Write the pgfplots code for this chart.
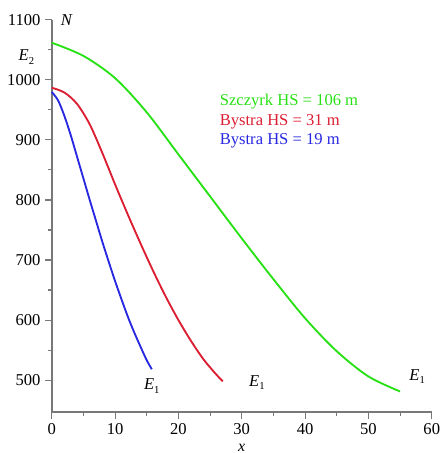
\documentclass[border=0pt]{standalone}
\usepackage{fontspec}
\setmainfont{Liberation Serif}
\usepackage{pgfplots}
\pgfplotsset{compat=1.18}

\definecolor{cgreen}{RGB}{40,225,20}
\definecolor{cred}{RGB}{220,30,50}
\definecolor{cblue}{RGB}{40,40,225}
\definecolor{axgray}{RGB}{120,120,120}

\newcommand{\Eone}{\textit{E}\raisebox{-0.45ex}{\footnotesize 1}}
\newcommand{\Etwo}{\textit{E}\raisebox{-0.45ex}{\footnotesize 2}}

\begin{document}
\begin{tikzpicture}
\begin{axis}[
    scale only axis,
    width=286.5pt, height=295.5pt,
    xmin=0, xmax=60, ymin=447, ymax=1100,
    axis x line=bottom, axis y line=left,
    axis line style={axgray, line width=1.4pt, -},
    xtick={0,10,...,60}, ytick={500,600,...,1100},
    minor xtick={5,15,...,55}, minor ytick={550,650,...,1050},
    tick style={axgray, line width=0.8pt},
    tick align=outside,
    major tick length=5pt, minor tick length=3pt,
    tick label style={font=\rmfamily\fontsize{12.5}{14}\selectfont},
    /pgf/number format/assume math mode=true,
    /pgf/number format/1000 sep={},
    xlabel={\textit{x}}, xlabel style={font=\rmfamily\fontsize{12}{13}\selectfont, inner sep=0pt, yshift=-3.5pt},
    clip=false,
    every axis plot/.style={line width=1.4pt, smooth},
]
% Szczyrk HS = 106 m
\addplot[cgreen] coordinates {
(0,1062) (5,1040) (10,1003) (15,946) (20,876) (25,806)
(30,736) (35,668) (40,603) (45,548) (50,506) (55,481)};
% Bystra HS = 31 m
\addplot[cred] coordinates {
(0,987) (2,979) (4,960) (6,926) (8,878) (10,826) (12,776)
(14,728) (16,682) (18,639) (20,600) (22,565) (24,534) (26,509) (27,498)};
% Bystra HS = 19 m
\addplot[cblue] coordinates {
(0,980) (1,966) (2,940) (3,908) (4,872) (5,836) (6,800) (7,765)
(8,730) (9,697) (10,665) (11,635) (12,606) (13,580) (14,556) (15,533) (15.8,518)};

\node[font=\rmfamily\fontsize{12.5}{14}\selectfont\itshape] at (axis cs:2.3,1100) {N};
\node[font=\rmfamily\fontsize{12.5}{14}\selectfont] at (axis cs:-4.0,1038) {\Etwo};
\node[font=\rmfamily\fontsize{12.5}{14}\selectfont] at (axis cs:15.8,490) {\Eone};
\node[font=\rmfamily\fontsize{12.5}{14}\selectfont] at (axis cs:32.4,496) {\Eone};
\node[font=\rmfamily\fontsize{12.5}{14}\selectfont] at (axis cs:57.7,506) {\Eone};

\node[anchor=west, text=cgreen, font=\rmfamily\fontsize{12.5}{14}\selectfont] at (axis cs:25.8,964) {Szczyrk HS = 106 m};
\node[anchor=west, text=cred, font=\rmfamily\fontsize{12.5}{14}\selectfont] at (axis cs:25.8,931) {Bystra HS = 31 m};
\node[anchor=west, text=cblue, font=\rmfamily\fontsize{12.5}{14}\selectfont] at (axis cs:25.8,898) {Bystra HS = 19 m};
\end{axis}
\pgfresetboundingbox
\useasboundingbox ([xshift=-39pt,yshift=-31pt]current axis.south west) rectangle ([xshift=7.5pt,yshift=15pt]current axis.north east);
\end{tikzpicture}
\end{document}
